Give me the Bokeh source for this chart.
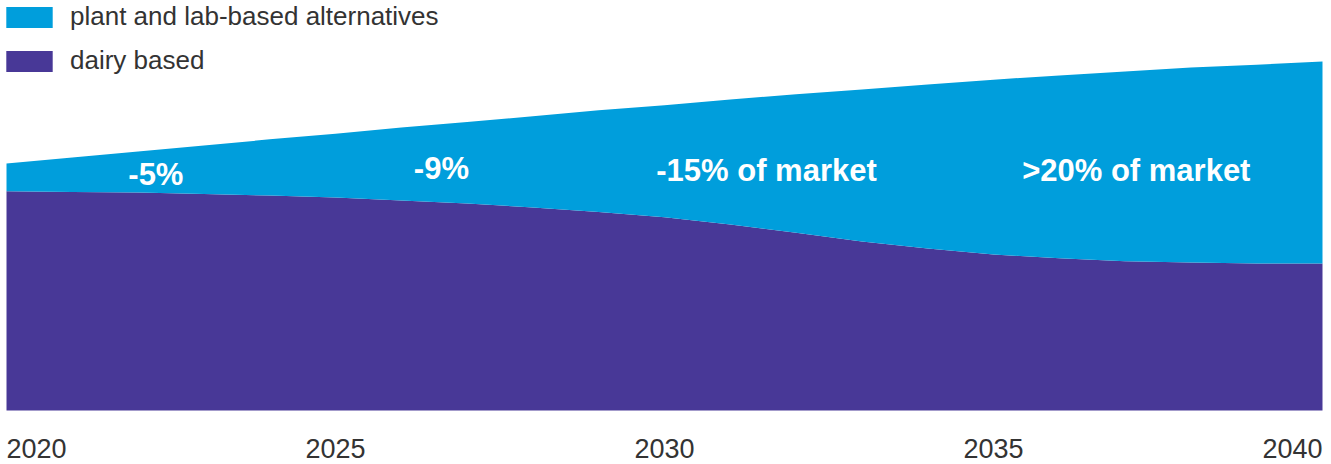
from bokeh.plotting import figure
from bokeh.models import ColumnDataSource, Range1d, Legend, LegendItem
from bokeh.core.properties import value
from bokeh.embed import file_html
from bokeh.resources import INLINE

# ---- data (index, total market at 2040 = 100) ----
years = list(range(2020, 2041))
dairy = [62.8, 62.6, 62.5, 62.0, 61.6, 61.0, 60.2, 59.3, 58.2, 56.9, 55.4,
         53.3, 50.9, 48.4, 46.4, 44.7, 43.6, 42.8, 42.4, 42.1, 42.1]
plant = [8.0, 9.9, 11.7, 13.9, 16.1, 18.3, 20.9, 23.4, 26.1, 29.1, 32.1,
         35.8, 39.7, 43.6, 47.0, 50.1, 52.4, 54.3, 55.9, 57.0, 57.9]
series_names = ["plant and lab-based alternatives", "dairy based"]
tick_years = [2020, 2025, 2030, 2035, 2040]
tick_labels = ["2020", "2025", "2030", "2035", "2040"]
note_years = [2022.27, 2026.61, 2031.55, 2037.17]
note_y = [67.6, 69.3, 68.8, 68.8]
note_texts = ["-5%", "-9%", "-15% of market", ">20% of market"]

BLUE = "#009edc"
PURPLE = "#483897"

total = [d + p for d, p in zip(dairy, plant)]
src = ColumnDataSource(dict(x=years, dairy=dairy, total=total, zero=[0] * len(years)))

W, H = 1331, 464
p = figure(width=W, height=H, output_backend="svg", toolbar_location=None,
           x_range=Range1d(2020 - 6 / 65.8, 2040 + 9 / 65.8),
           y_range=Range1d(-54 / 3.49, 410 / 3.49),
           min_border=0, outline_line_color=None)
p.axis.visible = False
p.grid.visible = False
p.background_fill_color = "white"
p.border_fill_color = "white"

r_dairy = p.varea(x="x", y1="zero", y2="dairy", source=src, fill_color=PURPLE)
r_plant = p.varea(x="x", y1="dairy", y2="total", source=src, fill_color=BLUE)

# annotations inside the blue band
p.text(x=note_years, y=note_y, text=note_texts, text_color="white",
       text_font=value("Liberation Sans"), text_font_style="bold",
       text_font_size="31px", text_align="center", text_baseline="middle")

# x tick labels
aligns = ["left"] + ["center"] * (len(tick_years) - 2) + ["right"]
tsrc = ColumnDataSource(dict(x=tick_years, y=[-10.9] * len(tick_years), t=tick_labels, a=aligns))
p.text(x="x", y="y", text="t", source=tsrc, text_align="a", text_baseline="middle",
       text_color="#333333", text_font=value("Liberation Sans"), text_font_size="27px")

legend = Legend(items=[LegendItem(label=series_names[0], renderers=[r_plant]),
                       LegendItem(label=series_names[1], renderers=[r_dairy])],
                location=(0, 388), orientation="vertical",
                glyph_width=58, glyph_height=26, label_height=26,
                label_standoff=12, spacing=13, padding=0, margin=0,
                border_line_alpha=0, background_fill_alpha=0,
                label_text_font="Liberation Sans", label_text_font_size="26px",
                label_text_color="#333333")
p.add_layout(legend, "center")

open("out.html", "w").write(file_html(p, INLINE))
